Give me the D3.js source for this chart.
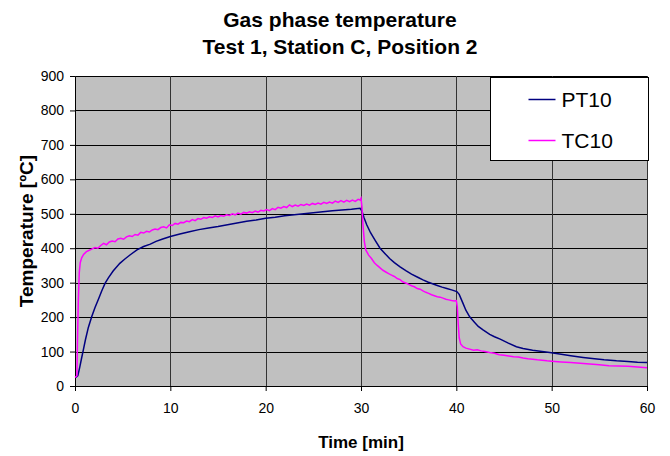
<!DOCTYPE html>
<html>
<head>
<meta charset="utf-8">
<script src="https://cdn.jsdelivr.net/npm/d3@7"></script>
<style>
	html, body { margin: 0; padding: 0; background: #fff; }
	svg { display: block; font-family: Arial, "Liberation Sans", sans-serif; }
	.axis path, .axis line { stroke: #000; }
	.axis text { font-size: 14px; fill: #000; }
</style>
</head>
<body>
<svg width="670" height="456"></svg>
<script>
const TITLE_LINES = ['Gas phase temperature', 'Test 1, Station C, Position 2'];
const X_LABEL = 'Time [min]';
const Y_LABEL = 'Temperature [ºC]';
const X_TICKS = [0, 10, 20, 30, 40, 50, 60];
const Y_TICKS = [0, 100, 200, 300, 400, 500, 600, 700, 800, 900];
const SERIES_NAMES = ['PT10', 'TC10'];
const SERIES_COLORS = ['#000080', '#ff00ff'];

// PT10 (time in min, temperature in ºC)
const PT10_TIME = [0.1, 0.3, 0.5, 0.7, 0.87, 1.1, 1.4, 1.75, 2.1, 2.5, 2.8, 3.15, 3.5, 4.0, 4.7, 5.2, 5.8, 6.5, 7.2, 7.9,
	8.5, 9.2, 10, 11, 12, 13, 14, 15, 16, 17, 18, 19, 20, 21, 22, 23, 24, 25, 26, 27, 28, 29, 29.9,
	30.1, 30.3, 30.6, 31.0, 31.5, 32, 32.5, 33, 33.5, 34.1, 34.7, 35.3, 36, 36.5, 37, 37.5, 38, 38.5, 39, 39.5, 40.05,
	40.3, 40.7, 41.0, 41.4, 41.9, 42.3, 42.8, 43.5, 44.0, 44.6, 45.4, 46.3, 47, 48, 49, 49.8, 51, 52, 53.3, 54.5, 55.5,
	56.8, 58, 59, 60];
const PT10_TEMP = [25, 30, 55, 82, 104, 135, 170, 201, 228, 255, 276, 298, 314, 334, 356, 368, 381, 395, 405, 412,
	420, 427, 434, 441, 448, 454, 459, 463, 468, 473, 478, 482, 487, 490, 494, 497, 500, 503, 506, 509, 511, 513, 516,
	508, 490, 468, 445, 422, 400, 385, 370, 358, 346, 335, 325, 315, 308, 302, 297, 292, 287, 283, 279, 274,
	266, 240, 220, 201, 185, 173, 163, 150, 143, 136, 125, 114, 109, 104, 100, 97, 92, 88, 83, 79, 76,
	73, 71, 69, 68];

// TC10 (time in min, temperature in ºC)
const TC10_TIME = [0, 0.1, 0.2, 0.25, 0.35, 0.45, 0.55, 0.7, 0.9, 1.2, 1.5, 1.8, 2.1, 2.4, 2.7, 3.0, 3.3, 3.6, 3.9, 4.2,
	4.5, 4.8, 5.1, 5.4, 5.7, 6.0, 6.3, 6.6, 6.9, 7.2, 7.5, 7.8, 8.1, 8.4, 8.7, 9.0, 9.3, 9.6, 9.9, 10.2,
	10.5, 10.8, 11.1, 11.4, 11.7, 12.0, 12.3, 12.6, 12.9, 13.2, 13.5, 13.8, 14.1, 14.4, 14.7, 15.0, 15.3, 15.6, 15.9, 16.2,
	16.5, 16.8, 17.1, 17.4, 17.7, 18.0, 18.3, 18.6, 18.9, 19.2, 19.5, 19.8, 20.1, 20.4, 20.7, 21.0, 21.3, 21.6, 21.9, 22.2,
	22.5, 22.8, 23.1, 23.4, 23.7, 24.0, 24.3, 24.6, 24.9, 25.2, 25.5, 25.8, 26.1, 26.4, 26.7, 27.0, 27.3, 27.6, 27.9, 28.2,
	28.5, 28.8, 29.1, 29.4, 29.7, 29.9, 30.0, 30.1, 30.2, 30.35, 30.5, 30.8, 31.1, 31.4, 31.7, 32.0, 32.3, 32.6, 32.9, 33.2,
	33.5, 33.8, 34.1, 34.4, 34.7, 35.0, 35.3, 35.6, 35.9, 36.2, 36.5, 36.8, 37.1, 37.4, 37.7, 38.0, 38.3, 38.6, 38.9, 39.2,
	39.5, 39.8, 40.0, 40.1, 40.2, 40.3, 40.45, 40.7, 41.0, 41.4, 41.8, 42.2, 42.6, 43.0, 43.5, 44.0, 44.5, 45, 45.5, 46,
	46.5, 47, 47.5, 48, 48.5, 49, 49.5, 50, 51, 52, 53, 54, 55, 56, 57, 58, 59, 60];
const TC10_TEMP = [25, 27, 30, 120, 250, 330, 358, 372, 382, 390, 394, 398, 402, 400, 408, 414, 410, 418, 421, 419,
	427, 429, 426, 433, 436, 434, 440, 438, 446, 444, 449, 447, 453, 456, 454, 460, 462, 459, 468, 466,
	472, 470, 475, 474, 479, 477, 483, 480, 486, 484, 489, 487, 491, 489, 494, 491, 495, 493, 497, 495,
	500, 497, 502, 499, 504, 502, 506, 503, 508, 505, 510, 508, 512, 509, 515, 512, 519, 516, 521, 518,
	526, 521, 525, 522, 527, 524, 528, 525, 530, 527, 531, 528, 533, 530, 534, 531, 537, 533, 538, 534,
	539, 535, 540, 536, 542, 540, 545, 520, 470, 420, 395, 380, 370, 358, 350, 343, 336, 331, 326, 322,
	318, 312, 309, 302, 299, 295, 291, 288, 283, 281, 276, 272, 269, 265, 262, 259, 258, 255, 252, 250,
	248, 247, 248, 230, 180, 140, 122, 114, 110, 107, 104, 105, 102, 100, 97, 95, 91, 89, 87, 85,
	84, 81, 79, 78, 76, 75, 73, 72, 70, 68, 66, 64, 62, 59, 58, 57, 55, 53];

const SVG_MARGIN = { top: 76, right: 23, bottom: 70, left: 75 };

const svg = d3.select('svg');
const width = +svg.attr('width') - SVG_MARGIN.left - SVG_MARGIN.right;
const height = +svg.attr('height') - SVG_MARGIN.top - SVG_MARGIN.bottom;

const x = d3.scaleLinear().domain([0, 60]).range([0, width]);
const y = d3.scaleLinear().domain([0, 900]).range([height, 0]);

// Titles
svg.append('g')
	.attr('font-weight', 'bold')
	.attr('font-size', 21)
	.attr('text-anchor', 'middle')
	.selectAll('text')
	.data(TITLE_LINES)
	.enter().append('text')
	.attr('x', 340)
	.attr('y', (d, i) => 27 + i * 27)
	.text((d) => d);

const g = svg.append('g').attr('transform', 'translate(' + SVG_MARGIN.left + ',' + SVG_MARGIN.top + ')');

// Plot background
g.append('rect')
	.attr('width', width)
	.attr('height', height)
	.attr('fill', '#c0c0c0');

// Gridlines
g.append('g')
	.selectAll('line')
	.data(Y_TICKS)
	.enter().append('line')
	.attr('x1', 0)
	.attr('x2', width)
	.attr('y1', (d) => Math.round(y(d)) + 0.5)
	.attr('y2', (d) => Math.round(y(d)) + 0.5)
	.attr('stroke', '#000');

g.append('g')
	.selectAll('line')
	.data(X_TICKS)
	.enter().append('line')
	.attr('x1', (d) => Math.round(x(d)) + 0.5)
	.attr('x2', (d) => Math.round(x(d)) + 0.5)
	.attr('y1', 0)
	.attr('y2', height)
	.attr('stroke', '#333');

// Axes
g.append('g')
	.attr('class', 'axis')
	.attr('transform', 'translate(0,' + height + ')')
	.call(d3.axisBottom(x).tickValues(X_TICKS).tickSize(5).tickSizeOuter(0).tickPadding(12));

g.append('g')
	.attr('class', 'axis')
	.call(d3.axisLeft(y).tickValues(Y_TICKS).tickSize(5).tickSizeOuter(0).tickPadding(6));

// Lines
const line = d3.line()
	.x((d) => x(d[0]))
	.y((d) => y(d[1]));

const series = [
	d3.zip(PT10_TIME, PT10_TEMP),
	d3.zip(TC10_TIME, TC10_TEMP)
];

g.append('g')
	.attr('fill', 'none')
	.attr('stroke-width', 1.5)
	.selectAll('path')
	.data(series)
	.enter().append('path')
	.attr('stroke', (d, i) => SERIES_COLORS[i])
	.attr('d', line);

// Axis labels
svg.append('text')
	.attr('x', SVG_MARGIN.left + width / 2)
	.attr('y', 448)
	.attr('text-anchor', 'middle')
	.attr('font-weight', 'bold')
	.attr('font-size', 17)
	.text(X_LABEL);

svg.append('text')
	.attr('transform', 'translate(33,' + (SVG_MARGIN.top + height / 2) + ') rotate(-90)')
	.attr('text-anchor', 'middle')
	.attr('font-weight', 'bold')
	.attr('font-size', 19)
	.text(Y_LABEL);

// Legend
const legend = svg.append('g').attr('transform', 'translate(490.5,77.5)');

legend.append('rect')
	.attr('width', 158)
	.attr('height', 83)
	.attr('fill', '#fff')
	.attr('stroke', '#000');

const items = legend.selectAll('g')
	.data(SERIES_NAMES)
	.enter().append('g')
	.attr('transform', (d, i) => 'translate(0,' + (22 + i * 41) + ')');

items.append('line')
	.attr('x1', 38)
	.attr('x2', 65)
	.attr('stroke', (d, i) => SERIES_COLORS[i])
	.attr('stroke-width', 1.5);

items.append('text')
	.attr('x', 71)
	.attr('y', 7)
	.attr('font-size', 21)
	.text((d) => d);
</script>
</body>
</html>
